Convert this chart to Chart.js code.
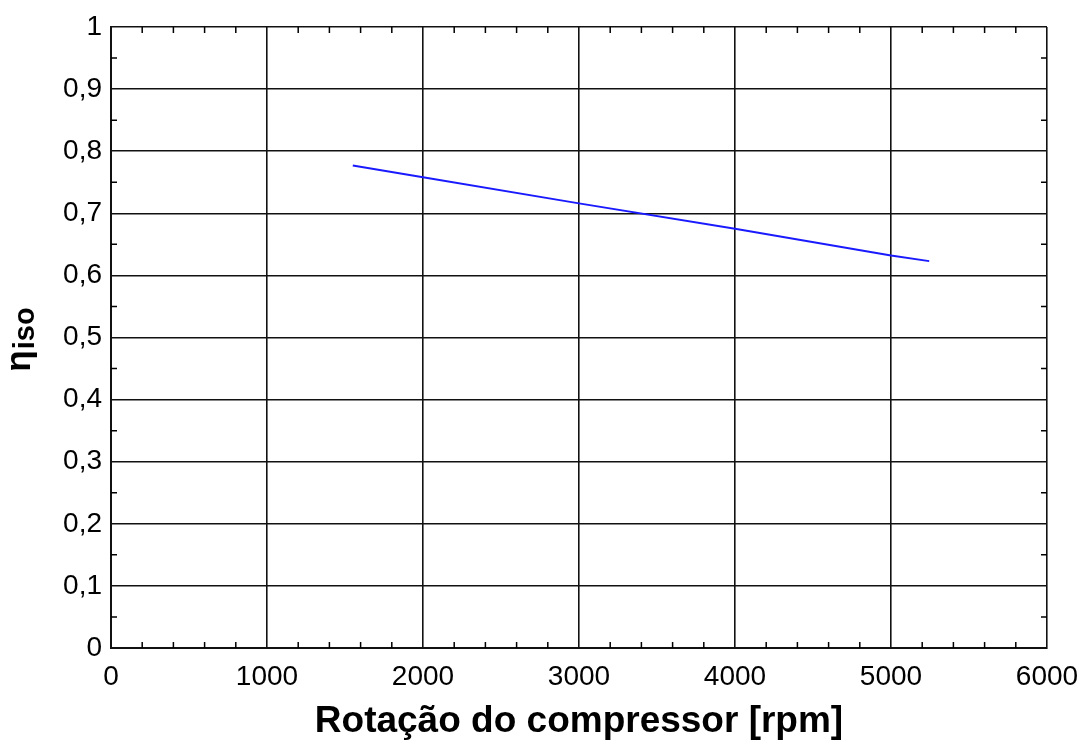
<!DOCTYPE html>
<html>
<head>
<meta charset="utf-8">
<script src="https://cdn.jsdelivr.net/npm/chart.js@4.4.0/dist/chart.umd.min.js"></script>
<style>
  html, body { margin: 0; padding: 0; background: #fff; }
  #wrap { width: 1083px; height: 746px; }
</style>
</head>
<body>
<div id="wrap"><canvas id="etaChart"></canvas></div>
<script>
// values
const rpm = [1550, 2000, 3000, 4000, 5000, 5245];
const etaIso = [0.777, 0.758, 0.716, 0.675, 0.632, 0.623];
const xTicks = [0, 1000, 2000, 3000, 4000, 5000, 6000];
const yTicks = [0, 0.1, 0.2, 0.3, 0.4, 0.5, 0.6, 0.7, 0.8, 0.9, 1];

const FONT = '"Liberation Sans", Arial, sans-serif';

// small inward minor ticks on all four sides
const minorTicks = {
    id: 'minorTicks',
    afterDraw(chart) {
        const { ctx, chartArea: a, scales: { x, y } } = chart;
        ctx.save();
        ctx.strokeStyle = '#000';
        ctx.lineWidth = 1.5;
        ctx.beginPath();
        for (let i = 0; i < xTicks.length - 1; i++) {
            const step = (xTicks[i + 1] - xTicks[i]) / 5;
            for (let k = 1; k < 5; k++) {
                const px = x.getPixelForValue(xTicks[i] + k * step);
                ctx.moveTo(px, a.bottom); ctx.lineTo(px, a.bottom - 6);
                ctx.moveTo(px, a.top); ctx.lineTo(px, a.top + 6);
            }
        }
        for (let i = 0; i < yTicks.length - 1; i++) {
            const py = y.getPixelForValue((yTicks[i] + yTicks[i + 1]) / 2);
            ctx.moveTo(a.left, py); ctx.lineTo(a.left + 6, py);
            ctx.moveTo(a.right, py); ctx.lineTo(a.right - 6, py);
        }
        ctx.stroke();
        ctx.restore();
    }
};

// y title: eta with "iso" subscript, rotated
const yTitle = {
    id: 'yTitle',
    afterDraw(chart) {
        const { ctx } = chart;
        ctx.save();
        ctx.translate(25, 340);
        ctx.rotate(-Math.PI / 2);
        ctx.fillStyle = '#000';
        ctx.textBaseline = 'alphabetic';
        ctx.font = 'bold 35px ' + FONT;
        const w1 = ctx.measureText('η').width;
        ctx.font = 'bold 29px ' + FONT;
        const w2 = ctx.measureText('iso').width;
        const start = -(w1 + w2) / 2;
        ctx.font = 'bold 35px ' + FONT;
        ctx.fillText('η', start, 5);
        ctx.font = 'bold 29px ' + FONT;
        ctx.fillText('iso', start + w1 + 1, 9);
        ctx.restore();
    }
};

const fmtY = v => (v === 0 || v === 1) ? String(v) : v.toFixed(1).replace('.', ',');

new Chart(document.getElementById('etaChart'), {
    type: 'line',
    data: {
        datasets: [{
            data: rpm.map((r, i) => ({ x: r, y: etaIso[i] })),
            borderColor: '#1a1aff',
            borderWidth: 2,
            pointRadius: 0,
            tension: 0,
            fill: false
        }]
    },
    options: {
        responsive: true,
        maintainAspectRatio: false,
        animation: false,
        layout: { padding: { top: 27, right: 36, left: 0, bottom: 0 } },
        plugins: {
            legend: { display: false },
            tooltip: { enabled: false }
        },
        scales: {
            x: {
                type: 'linear',
                min: 0,
                max: 6000,
                afterBuildTicks: s => { s.ticks = xTicks.map(v => ({ value: v })); },
                afterFit: s => { s.height = 98; s.paddingRight = 0; s.paddingLeft = 0; },
                ticks: {
                    color: '#000',
                    padding: 12,
                    maxRotation: 0,
                    font: { family: FONT, size: 28 },
                    callback: v => String(v)
                },
                grid: { color: '#111', lineWidth: 1.6, drawTicks: false },
                border: { display: true, color: '#111', width: 2 },
                title: {
                    display: true,
                    text: 'Rotação do compressor [rpm]',
                    color: '#000',
                    font: { family: FONT, size: 37, weight: 'bold' },
                    padding: { top: 0, bottom: 2 }
                }
            },
            y: {
                type: 'linear',
                min: 0,
                max: 1,
                afterBuildTicks: s => { s.ticks = yTicks.map(v => ({ value: v })); },
                afterFit: s => { s.width = 111; },
                ticks: {
                    color: '#000',
                    padding: 9,
                    font: { family: FONT, size: 28 },
                    callback: v => fmtY(v)
                },
                grid: { color: '#111', lineWidth: 1.6, drawTicks: false },
                border: { display: true, color: '#111', width: 2 }
            }
        }
    },
    plugins: [minorTicks, yTitle]
});
</script>
</body>
</html>
